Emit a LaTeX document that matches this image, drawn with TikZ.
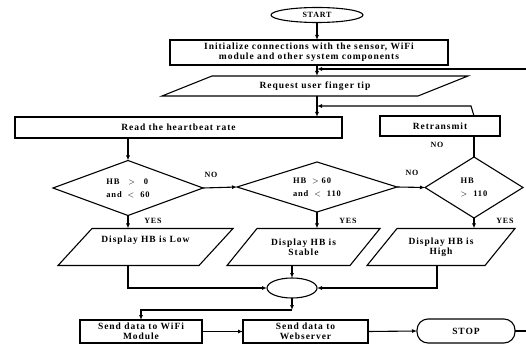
\documentclass[tikz,border=0pt]{standalone}
\usepackage{fontspec}
\setmainfont{Liberation Serif}[LetterSpace=10]
\usetikzlibrary{shapes.geometric,arrows.meta}

%slanted outline round a node: name, slant
\newcommand{\slanted}[2]{\draw[line width=1.1pt] ([xshift=-#2/2]#1.south west) -- ([xshift=#2/2]#1.north west) -- ([xshift=#2/2]#1.north east) -- ([xshift=-#2/2]#1.south east) -- cycle;}

\begin{document}
\begin{tikzpicture}[x=1pt, y=-1pt,
		every node/.style={font=\fontsize{9.5}{10}\selectfont\bfseries, inner sep=1pt, outer sep=0pt, align=center},
		box/.style={draw, line width=1.1pt, rectangle},
		io/.style={rectangle},
		choice/.style={draw, line width=1.1pt, diamond},
		flow/.style={line width=1.1pt, -{Latex[length=5pt,width=4pt]}},
		tag/.style={font=\fontsize{8}{9}\selectfont\bfseries}]
	\useasboundingbox (0,0) rectangle (526,352);
	
	%Start and init
	\node[draw, line width=1.1pt, ellipse, minimum width=92, minimum height=15] (start) at (317,15) {\fontsize{8}{9}\selectfont START};
	\node[box, minimum width=278, minimum height=25] (init) at (309,52.5) {Initialize connections with the sensor, WiFi\\module and other system components};
	\node[io, minimum width=256, minimum height=20] (req) at (315,86) {Request user finger tip};
	\slanted{req}{50}
	\node[box, minimum width=327, minimum height=21] (read) at (178.5,127.5) {Read the heartbeat rate};
	\node[box, minimum width=120, minimum height=20] (retr) at (440,126) {Retransmit};
	
	%Decisions
	\node[choice, minimum width=150, minimum height=55] (d1) at (128,188) {};
	\node[font=\fontsize{8.5}{13}\selectfont\bfseries, align=left] (d1t) at (d1) {HB\ \ \ $>$\ \ \ 0\\and\ \ $<$\ \ 60};
	\node[choice, minimum width=160, minimum height=50] (d2) at (317,187) {};
	\node[font=\fontsize{8.5}{13}\selectfont\bfseries, align=left] (d2t) at (d2) {HB\ \ $>$ 60\\and\ \ $<$\ \ 110};
	\node[choice, minimum width=98, minimum height=61] (d3) at (474,187.5) {};
	\node[font=\fontsize{8.5}{13}\selectfont\bfseries, align=left] (d3t) at (d3) {HB\\$>$\ \ 110};
	
	%Outputs
	\node[io, minimum width=141, minimum height=37] (low) at (145.5,247) {Display HB is Low\\[6pt]};
	\slanted{low}{34}
	\node[io, minimum width=123, minimum height=37] (stab) at (303.5,247) {Display HB is\\Stable};
	\slanted{stab}{30}
	\node[io, minimum width=118, minimum height=37] (high) at (441,247) {Display HB is\\High};
	\slanted{high}{30}
	\node[draw, line width=1.1pt, ellipse, minimum width=50, minimum height=20] (mrg) at (292,288) {};
	
	%Send and stop
	\node[box, minimum width=122, minimum height=23] (wifi) at (141,331.5) {Send data to WiFi\\Module};
	\node[box, minimum width=125, minimum height=23] (web) at (305.5,331.5) {Send data to\\Webserver};
	\node[draw, line width=1.1pt, rounded corners=11pt, minimum width=98, minimum height=24] (stop) at (466,331) {STOP};
	
	\coordinate (rt1) at (526,69);
	\coordinate (rt2) at (471,106);
	\coordinate (jn) at (292,310);
	\coordinate (out) at (526,331);
	
	%Labels
	\node[tag] (no1) at (211,175) {NO};
	\node[tag] (no2) at (412,173) {NO};
	\node[tag] (no3) at (437,145) {NO};
	\node[tag] (yes1) at (153,221) {YES};
	\node[tag] (yes2) at (348,221) {YES};
	\node[tag] (yes3) at (505,221) {YES};
	
	%Connectors
	\draw[flow] (start.south) -- (start.south |- init.north);
	\draw[flow] (start.south |- init.south) -- (start.south |- req.north);
	\draw[flow] (start.south |- req.south) -- (start.south |- read.north);
	\draw[flow] (rt1) -- (start.south |- rt1);
	\draw[flow] (d3.north |- retr.north) -- (rt2) -- (start.south |- rt2);
	\draw[line width=1.1pt] (d3.north) -- (d3.north |- retr.south);
	\draw[flow] (d1.north |- read.south) -- (d1.north);
	\draw[flow] (d1.east) -- (d2.west);
	\draw[flow] (d2.east) -- (d3.west);
	\draw[flow] (d1.south) -- (d1.south |- low.north);
	\draw[flow] (d2.south) -- (d2.south |- stab.north);
	\draw[flow] (d3.south) -- (d3.south |- high.north);
	\draw[flow] (d1.south |- low.south) |- (mrg.west);
	\draw[flow] (mrg.north |- stab.south) -- (mrg.north);
	\draw[flow] ([xshift=-4pt]high.south) |- (mrg.east);
	\draw[flow] (mrg.south) -- (jn);
	\draw[flow] (jn) -| (wifi.north);
	\draw[flow] (wifi.east) -- (web.west);
	\draw[flow] (web.east) -- (stop.west);
	\draw[line width=1.1pt] (stop.east) -- (out);
\end{tikzpicture}
\end{document}
